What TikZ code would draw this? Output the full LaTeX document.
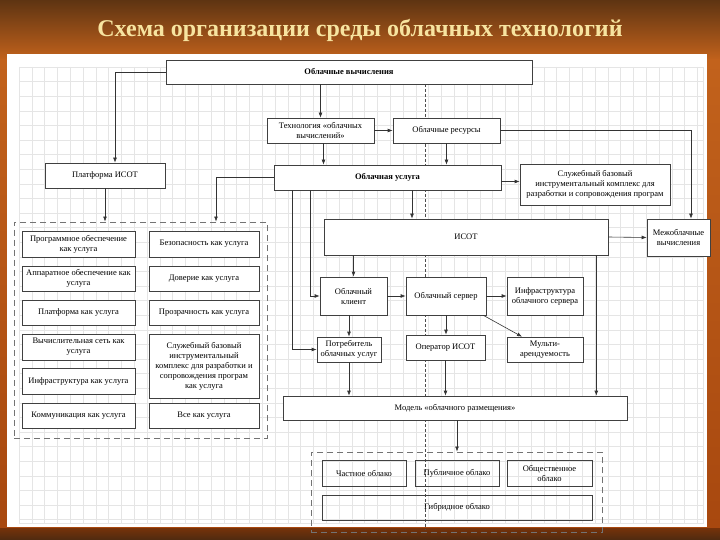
\documentclass[tikz,border=0pt]{standalone}
\usepackage{fontspec}
\setmainfont{Liberation Serif}
\usetikzlibrary{arrows.meta}
\definecolor{slidetop}{HTML}{5E3412}
\definecolor{slidemid}{HTML}{C2621C}
\definecolor{slidelow}{HTML}{A8480F}
\definecolor{slidebot}{HTML}{4E2A10}
\definecolor{titlecol}{HTML}{F7E4A0}
\definecolor{gridcol}{HTML}{E5E5E5}
\begin{document}
\begin{tikzpicture}[x=1pt,y=-1pt,
  blk/.style={draw=black!75, fill=white, line width=0.6pt, align=center, inner sep=1pt, font=\fontsize{8.5}{10}\selectfont},
  bold/.style={blk, font=\fontsize{8.5}{10}\selectfont\bfseries},
  grp/.style={draw=black!55, dash pattern=on 6pt off 4pt, line width=0.9pt},
  arr/.style={draw=black!80, line width=0.6pt, -{Latex[length=5pt,width=3.8pt]}},
  sz/.style 2 args={minimum width=#1pt, minimum height=#2pt}]
  \useasboundingbox (0,0) rectangle (720,540);
  \shade[top color=slidetop, bottom color=slidemid] (0,0) rectangle (720,60);
  \shade[top color=slidemid, bottom color=slidelow] (0,60) rectangle (720,528);
  \shade[top color=slidelow!70!black, bottom color=slidebot] (0,528) rectangle (720,540);
  \fill[white] (7,54) rectangle (707,527);
  \foreach \gx in {0,...,53}
    \draw[gridcol, line width=0.4pt] (19+12.8*\gx,67) -- (19+12.8*\gx,523);
  \foreach \gy in {0,...,31}
    \draw[gridcol, line width=0.4pt] (19,67+14.6*\gy) -- (703,67+14.6*\gy);
  \draw[gridcol, line width=0.4pt] (19,67) rectangle (703,523);
  \draw[black!70, dash pattern=on 3pt off 2pt, line width=0.5pt] (425,84) -- (425,530);

  \node[font=\fontsize{24}{29}\selectfont\bfseries, text=titlecol] (title) at (360,30) {Схема организации среды облачных технологий};

  \node[bold, sz={366}{24}] (cc) at (349,72) {Облачные вычисления};
  \node[blk, sz={107}{25}] (tech) at (320.5,130.5) {Технология «облачных\\вычислений»};
  \node[blk, sz={107}{25}] (res) at (446.5,130.5) {Облачные ресурсы};
  \node[blk, sz={120}{25}] (plat) at (105,175.5) {Платформа ИСОТ};
  \node[bold, sz={227}{25}] (svc) at (387.5,177.5) {Облачная услуга};
  \node[blk, sz={150}{41}] (tool) at (595,184.5) {Служебный базовый\\инструментальный комплекс для\\разработки и сопровождения програм};
  \node[blk, sz={63}{37}] (inter) at (678.5,237.5) {Межоблачные\\вычисления};
  \node[blk, sz={284}{36}] (isot) at (466,237) {ИСОТ};
  \node[blk, sz={67}{38}] (client) at (353.5,296) {Облачный\\клиент};
  \node[blk, sz={80}{38}] (server) at (446,296) {Облачный сервер};
  \node[blk, sz={76}{38}] (infra) at (545,296) {Инфраструктура\\облачного сервера};
  \node[blk, sz={64}{25}] (cons) at (349,349.5) {Потребитель\\облачных услуг};
  \node[blk, sz={79}{25}] (oper) at (445.5,347.5) {Оператор ИСОТ};
  \node[blk, sz={76}{25}] (multi) at (545,349.5) {Мульти-\\арендуемость};
  \node[blk, sz={344}{24}] (model) at (455,408) {Модель «облачного размещения»};

  \node[grp, sz={253}{216}] (lgrp) at (140.5,330) {};
  \node[blk, sz={113}{26}] (saas) at (78.5,244) {Программное обеспечение\\как услуга};
  \node[blk, sz={113}{25}] (haas) at (78.5,278.5) {Аппаратное обеспечение как\\услуга};
  \node[blk, sz={113}{25}] (paas) at (78.5,312.5) {Платформа как услуга};
  \node[blk, sz={113}{26}] (naas) at (78.5,347) {Вычислительная сеть как\\услуга};
  \node[blk, sz={113}{26}] (iaas) at (78.5,381) {Инфраструктура как услуга};
  \node[blk, sz={113}{25}] (caas) at (78.5,415.5) {Коммуникация как услуга};
  \node[blk, sz={110}{26}] (secaas) at (204,244) {Безопасность как услуга};
  \node[blk, sz={110}{25}] (trustaas) at (204,278.5) {Доверие как услуга};
  \node[blk, sz={110}{25}] (transaas) at (204,312.5) {Прозрачность как услуга};
  \node[blk, sz={110}{64}] (toolaas) at (204,366) {Служебный базовый\\инструментальный\\комплекс для разработки и\\сопровождения програм\\как услуга};
  \node[blk, sz={110}{25}] (xaas) at (204,415.5) {Все как услуга};

  \node[grp, sz={291}{80}] (bgrp) at (456.5,492) {};
  \node[blk, fill=none, sz={84}{26}] (priv) at (364,473) {Частное облако};
  \node[blk, fill=none, sz={84}{26}] (pub) at (457,473) {Публичное облако};
  \node[blk, fill=none, sz={85}{26}] (comm) at (549.5,473) {Общественное\\облако};
  \node[blk, fill=none, sz={270}{25}] (hyb) at (457,507.5) {Гибридное облако};

  \draw[arr] (cc.south -| tech.north) -- (tech.north);
  \draw[arr] (cc.west) -| ([xshift=10pt]plat.north);
  \draw[arr] (tech.east) -- (res.west);
  \draw[arr] ([xshift=3pt]tech.south) -- ([xshift=3pt]tech.south |- svc.north);
  \draw[arr] (res.south) -- (res.south |- svc.north);
  \draw[arr] (res.east) -| ([xshift=12.5pt]inter.north);
  \draw[arr] ([yshift=-4pt]svc.east) -- ([yshift=-4pt]svc.east -| tool.west);
  \draw[arr] (svc.west) -| ([xshift=75.5pt]lgrp.north);
  \draw[arr] (plat.south) -- (plat.south |- lgrp.north);
  \draw[arr] ([xshift=24.5pt]svc.south) -- ([xshift=24.5pt]svc.south |- isot.north);
  \draw[arr] ([xshift=19pt]svc.south west) |- (cons.west);
  \draw[arr] ([xshift=37pt]svc.south west) |- (client.west);
  \draw[arr] (client.north |- isot.south) -- (client.north);
  \draw[arr] (isot.east) -- (inter.west);
  \draw[arr] ([xshift=-12pt]isot.south east) -- ([xshift=-12pt]isot.south east |- model.north);
  \draw[arr] (client.east) -- (server.west);
  \draw[arr] (server.east) -- (infra.west);
  \draw[arr] (server.south) -- (server.south |- oper.north);
  \draw[arr] ([xshift=-3pt]server.south east) -- ([xshift=-23pt]multi.north);
  \draw[arr] (client.south -| cons.north) -- (cons.north);
  \draw[arr] (cons.south) -- (cons.south |- model.north);
  \draw[arr] (oper.south) -- (oper.south |- model.north);
  \draw[arr] ([xshift=2pt]model.south) -- ([xshift=2pt]model.south |- bgrp.north);
\end{tikzpicture}
\end{document}
